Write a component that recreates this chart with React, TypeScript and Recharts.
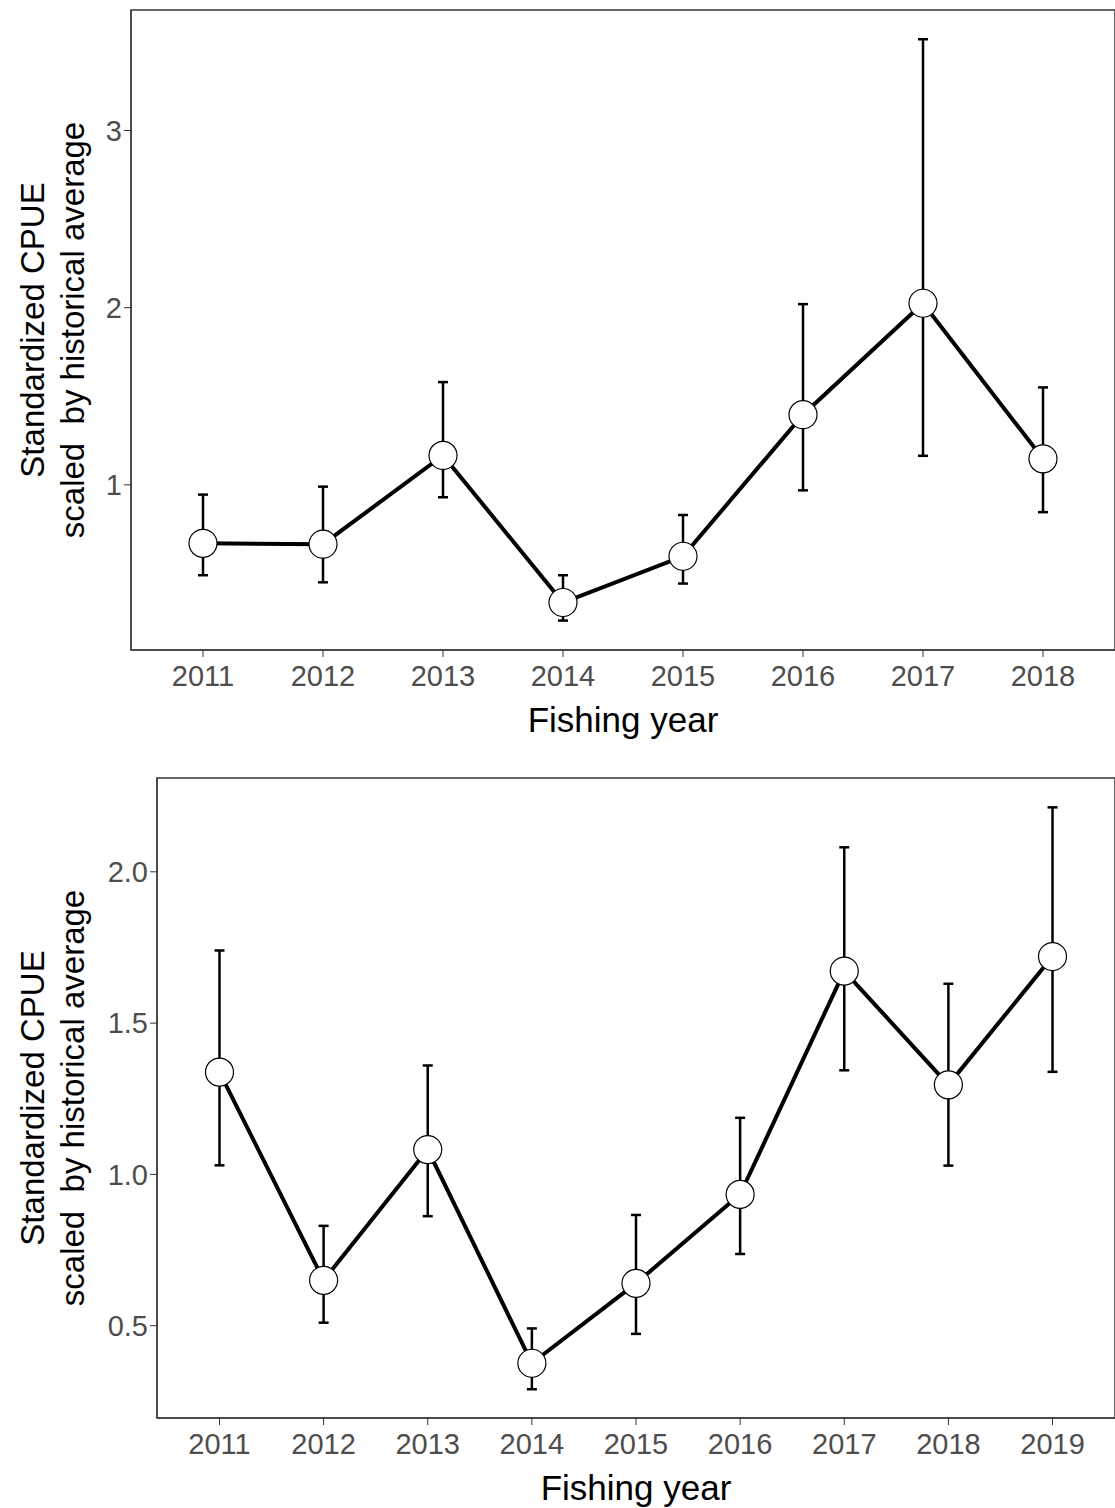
import { LineChart, Line, XAxis, YAxis, ErrorBar, ReferenceArea } from "recharts";

const yearsA = ["2011", "2012", "2013", "2014", "2015", "2016", "2017", "2018"];
const cpueA = [0.67, 0.665, 1.166, 0.336, 0.597, 1.396, 2.025, 1.147];
const lowA = [0.49, 0.45, 0.93, 0.234, 0.443, 0.969, 1.164, 0.846];
const highA = [0.945, 0.99, 1.58, 0.49, 0.83, 2.02, 3.515, 1.55];
const ticksA = [1, 2, 3];

const yearsB = ["2011", "2012", "2013", "2014", "2015", "2016", "2017", "2018", "2019"];
const cpueB = [1.338, 0.65, 1.082, 0.376, 0.64, 0.934, 1.672, 1.296, 1.72];
const lowB = [1.03, 0.51, 0.862, 0.29, 0.473, 0.737, 1.344, 1.029, 1.339];
const highB = [1.74, 0.83, 1.36, 0.491, 0.866, 1.187, 2.081, 1.63, 2.213];
const ticksB = [0.5, 1.0, 1.5, 2.0];

const FONT = "'Liberation Sans', Arial, sans-serif";

function build(v: number[], lo: number[], hi: number[]) {
  return v.map((y, i) => ({ x: i, y, err: [y - lo[i], hi[i] - y] }));
}

function YLabel({ viewBox }: any) {
  const cy = viewBox.y + viewBox.height / 2;
  return (
    <g fontFamily={FONT} fontSize={33} fill="#000">
      <text x={44} y={cy} textAnchor="middle" transform={`rotate(-90 44 ${cy})`}>
        Standardized CPUE
      </text>
      <text x={84} y={cy} textAnchor="middle" xmlSpace="preserve" style={{ whiteSpace: "pre" }} transform={`rotate(-90 84 ${cy})`}>
        {"scaled\u00a0\u00a0by historical average"}
      </text>
    </g>
  );
}

function Panel({ years, data, domain, ticks, yWidth, fmt }: any) {
  const n = years.length;
  const xd = [-0.6, n - 1 + 0.6];
  return (
    <LineChart width={1115} height={740} data={data} margin={{ top: 10, right: 0, bottom: 0, left: 0 }}>
      <XAxis
        dataKey="x"
        type="number"
        domain={xd}
        ticks={years.map((_: string, i: number) => i)}
        tickFormatter={(i: number) => years[i]}
        allowDataOverflow
        height={90}
        stroke="#333"
        tickSize={7}
        tick={{ fill: "#4d4d4d", fontSize: 29, fontFamily: FONT, dy: 6 }}
        label={{ value: "Fishing year", position: "insideBottom", offset: 8, fontSize: 35, fontFamily: FONT, fill: "#000" }}
      />
      <YAxis
        type="number"
        domain={domain}
        ticks={ticks}
        allowDataOverflow
        width={yWidth}
        stroke="#333"
        tickSize={7}
        tickFormatter={fmt}
        tick={{ fill: "#4d4d4d", fontSize: 29, fontFamily: FONT }}
        label={<YLabel />}
      />
      <ReferenceArea x1={xd[0]} x2={xd[1]} y1={domain[0]} y2={domain[1]} fill="none" stroke="#333" strokeWidth={1.5} ifOverflow="visible" />
      <Line
        dataKey="y"
        stroke="#000"
        strokeWidth={4}
        isAnimationActive={false}
        dot={{ r: 14, fill: "#fff", stroke: "#000", strokeWidth: 1.2 }}
        activeDot={false}
      >
        <ErrorBar dataKey="err" direction="y" width={5} stroke="#000" strokeWidth={2.5} isAnimationActive={false} />
      </Line>
    </LineChart>
  );
}

export default function App() {
  return (
    <div style={{ position: "absolute", left: 0, top: 0, width: 1115, height: 1508, background: "#fff" }}>
      <div style={{ position: "absolute", left: 0, top: 0 }}>
        <Panel years={yearsA} data={build(cpueA, lowA, highA)} domain={[0.068, 3.68]} ticks={ticksA} yWidth={131} fmt={(v: number) => String(v)} />
      </div>
      <div style={{ position: "absolute", left: 0, top: 768 }}>
        <Panel years={yearsB} data={build(cpueB, lowB, highB)} domain={[0.195, 2.31]} ticks={ticksB} yWidth={157} fmt={(v: number) => v.toFixed(1)} />
      </div>
    </div>
  );
}
